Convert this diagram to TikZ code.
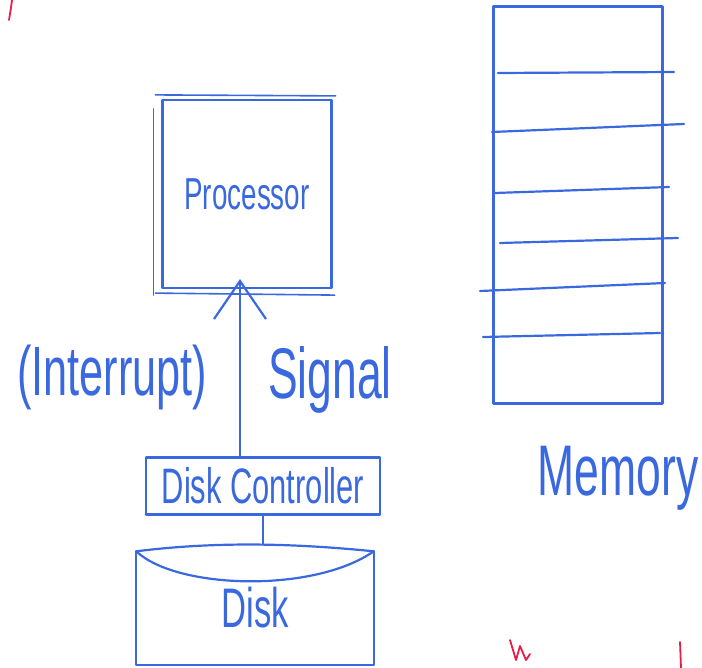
\documentclass[tikz,border=0pt]{standalone}
\usepackage{fontspec}
\newfontfamily\handfont[FakeStretch=0.62]{Liberation Sans}
\usetikzlibrary{arrows.meta}
\definecolor{inkblue}{RGB}{58,104,222}
\definecolor{inkred}{RGB}{232,28,70}

\begin{document}
\begin{tikzpicture}[x=1bp,y=-1bp,line join=round,line cap=round,
  ink/.style={draw=inkblue,line width=2.2bp},
  box/.style={ink,rectangle,inner sep=0pt,text=inkblue,font=\handfont},
  lbl/.style={text=inkblue,font=\handfont,inner sep=0pt}]
\useasboundingbox (0,0) rectangle (702,668);
%%
  % Node: Processor
\begin{scope}
  \node[box,minimum width=169bp,minimum height=188bp,font=\handfont\fontsize{45}{48}\selectfont] (proc) at (247,194) {Processor};
  \draw[ink,line width=1.6bp] ([shift={(-6,-4)}]proc.north west) -- ([shift={(3,-3)}]proc.north east);
  \draw[ink,line width=1.6bp] ([shift={(-8,10)}]proc.north west) -- ([shift={(-8,6)}]proc.south west);
  \draw[ink,line width=1.6bp] ([shift={(-6,4)}]proc.south west) -- ([shift={(2,6)}]proc.south east);
\end{scope}
  % Node: Disk Controller
\begin{scope}
  \node[box,minimum width=234bp,minimum height=57bp,font=\handfont\fontsize{50}{52}\selectfont] (ctrl) at (263,486) {Disk Controller};
\end{scope}
  % Node: Disk
\begin{scope}
  \node[lbl,minimum width=237bp,minimum height=113bp,font=\handfont\fontsize{56}{58}\selectfont] (disk) at (255,608) {Disk};
  \coordinate (dtop) at ([yshift=7bp]disk.north);
  \draw[ink] (disk.north west) -- (disk.south west) -- (disk.south east) -- (disk.north east);
  \draw[ink] (disk.north west) .. controls +(80,-10) and +(-80,-8) .. (disk.north east);
  \draw[ink] (disk.north west) .. controls +(40,38) and +(-60,42) .. (disk.north east);
\end{scope}
  % Node: Memory
\begin{scope}
  \node[box,minimum width=169bp,minimum height=397bp] (mem) at (578,205) {};
  \foreach \xa/\ya/\xb/\yb in {498/73/674/72, 492/132/684/124, 495/193/669/187,
                               500/243/678/238, 480/291/665/283, 483/337/660/333}
    \draw[ink] (\xa,\ya) -- (\xb,\yb);
  \node[lbl,font=\handfont\fontsize{72}{74}\selectfont] (memlbl) at (618,478) {Memory};
\end{scope}
  % Edge: Disk Controller -> Processor
  \draw[ink,-{Straight Barb[length=38bp,width=52bp]},shorten >=-10bp] ([xshift=-23bp]ctrl.north) -- ([xshift=-23bp]ctrl.north |- proc.south);
  \node[lbl,font=\handfont\fontsize{70}{72}\selectfont] (intr) at (112,377) {(Interrupt)};
  \node[lbl,font=\handfont\fontsize{72}{74}\selectfont] (sig) at (330,380) {Signal};
  % Edge: Disk Controller -- Disk
  \draw[ink] (ctrl.south) -- (ctrl.south |- dtop);
  % red pen marks
  \draw[inkred,line width=1.8bp] (12,0) .. controls (11,8) .. (9,20);
  \draw[inkred,line width=1.8bp] (510,640) -- (516,660) -- (520,646) -- (526,660) -- (530,654);
  \draw[inkred,line width=1.8bp] (680,642) -- (681,668);
%
\end{tikzpicture}
\end{document}
